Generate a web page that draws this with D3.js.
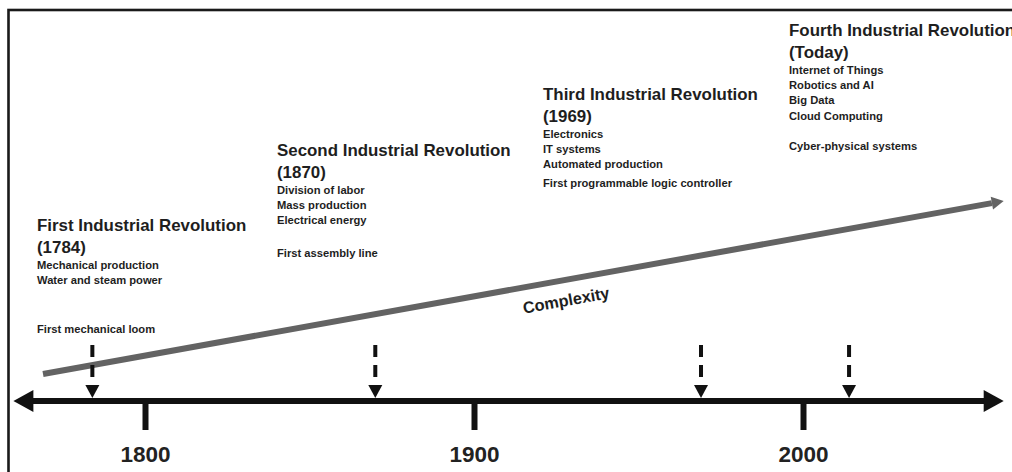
<!DOCTYPE html>
<html>
<head>
<meta charset="utf-8">
<script src="https://cdn.jsdelivr.net/npm/d3@7"></script>
<style>
  html, body { margin: 0; padding: 0; background: #fff; overflow: hidden; }
  svg { display: block; font-family: "Liberation Sans", Arial, sans-serif; }
</style>
</head>
<body>
<svg id="chart" width="1012" height="472"></svg>
<script>
// ---------------- data ----------------
const revolutionTitles = ["First Industrial Revolution", "Second Industrial Revolution", "Third Industrial Revolution", "Fourth Industrial Revolution"];
const revolutionYearLabels = ["(1784)", "(1870)", "(1969)", "(Today)"];
const revolutionYears = [1784, 1870, 1969, 2014];
const revolutionFeatures = [
  ["Mechanical production", "Water and steam power"],
  ["Division of labor", "Mass production", "Electrical energy"],
  ["Electronics", "IT systems", "Automated production"],
  ["Internet of Things", "Robotics and AI", "Big Data", "Cloud Computing"]
];
const revolutionMilestones = ["First mechanical loom", "First assembly line", "First programmable logic controller", "Cyber-physical systems"];
const tickYears = [1800, 1900, 2000];
const axisExtentYears = [1760, 2061];
const complexityYears = [1769, 2061];
const complexityLevels = [0, 1];
const complexityLabel = "Complexity";

// ---------------- layout ----------------
const blockLayout = [
  { x: 37,  y: 231, gap: 49 },
  { x: 277, y: 156, gap: 33 },
  { x: 543, y: 100, gap: 19 },
  { x: 789, y: 36,  gap: 30 }
];
const axisY = 401;

const svg = d3.select("#chart");
const x = d3.scaleLinear().domain([1800, 2000]).range([145, 803]);
const yC = d3.scaleLinear().domain([0, 1]).range([374, 201]);

// border
svg.append("rect")
  .attr("x", 8.5).attr("y", 10).attr("width", 1200).attr("height", 600)
  .attr("fill", "none").attr("stroke", "#1a1a1a").attr("stroke-width", 2.6);

// text blocks
const blocks = svg.append("g").attr("fill", "#1e1e1e");
revolutionTitles.forEach((t, i) => {
  const L = blockLayout[i];
  const g = blocks.append("g");
  g.append("text").attr("x", L.x).attr("y", L.y)
    .attr("font-size", 16.9).attr("font-weight", "bold").text(t);
  g.append("text").attr("x", L.x).attr("y", L.y + 22)
    .attr("font-size", 16.9).attr("font-weight", "bold").text(revolutionYearLabels[i]);
  let yy = L.y + 38;
  revolutionFeatures[i].forEach((f, j) => {
    g.append("text").attr("x", L.x).attr("y", yy + j * 15.2)
      .attr("font-size", 11.2).attr("font-weight", "bold").text(f);
  });
  const last = yy + (revolutionFeatures[i].length - 1) * 15.2;
  g.append("text").attr("x", L.x).attr("y", last + L.gap)
    .attr("font-size", 11.2).attr("font-weight", "bold").text(revolutionMilestones[i]);
});

// complexity arrow
const cx0 = x(complexityYears[0]), cy0 = yC(complexityLevels[0]);
const cx1 = x(complexityYears[1]), cy1 = yC(complexityLevels[1]);
const ang = Math.atan2(cy1 - cy0, cx1 - cx0);
const headLen = 12, headW = 6.5;
const bx = cx1 - headLen * Math.cos(ang), by = cy1 - headLen * Math.sin(ang);
svg.append("line")
  .attr("x1", cx0).attr("y1", cy0).attr("x2", bx).attr("y2", by)
  .attr("stroke", "#636363").attr("stroke-width", 6);
svg.append("path")
  .attr("d", `M${cx1},${cy1} L${bx - headW * Math.sin(ang)},${by + headW * Math.cos(ang)} L${bx + headW * Math.sin(ang)},${by - headW * Math.cos(ang)} Z`)
  .attr("fill", "#636363");
const deg = ang * 180 / Math.PI;
svg.append("text")
  .attr("transform", `translate(566,300) rotate(${deg})`)
  .attr("y", 6)
  .attr("text-anchor", "middle")
  .attr("font-size", 16.3).attr("font-weight", "bold").attr("fill", "#1e1e1e")
  .text(complexityLabel);

// dashed event arrows
const ev = svg.append("g");
revolutionYears.forEach(yr => {
  const xx = x(yr);
  ev.append("line").attr("x1", xx).attr("x2", xx).attr("y1", 345).attr("y2", 385)
    .attr("stroke", "#111").attr("stroke-width", 4).attr("stroke-dasharray", "12,8");
  ev.append("path").attr("d", `M${xx - 7},385 L${xx + 7},385 L${xx},398 Z`).attr("fill", "#111");
});

// timeline axis
const xa0 = x(axisExtentYears[0]), xa1 = x(axisExtentYears[1]);
svg.append("line").attr("x1", xa0 + 15).attr("x2", xa1 - 15).attr("y1", axisY).attr("y2", axisY)
  .attr("stroke", "#111").attr("stroke-width", 6);
svg.append("path").attr("d", `M${xa0},${axisY} L${xa0 + 20},${axisY - 11} L${xa0 + 20},${axisY + 11} Z`).attr("fill", "#111");
svg.append("path").attr("d", `M${xa1},${axisY} L${xa1 - 20},${axisY - 11} L${xa1 - 20},${axisY + 11} Z`).attr("fill", "#111");

const axis = d3.axisBottom(x).tickValues(tickYears).tickSize(29).tickPadding(16).tickFormat(d3.format("d"));
const ag = svg.append("g").attr("transform", `translate(0,${axisY})`).call(axis);
ag.select(".domain").remove();
ag.selectAll(".tick line").attr("stroke", "#111").attr("stroke-width", 6);
ag.selectAll(".tick text").attr("fill", "#222").attr("font-size", 22.5).attr("font-weight", "bold")
  .attr("font-family", "'Liberation Sans', Arial, sans-serif");
</script>
</body>
</html>
